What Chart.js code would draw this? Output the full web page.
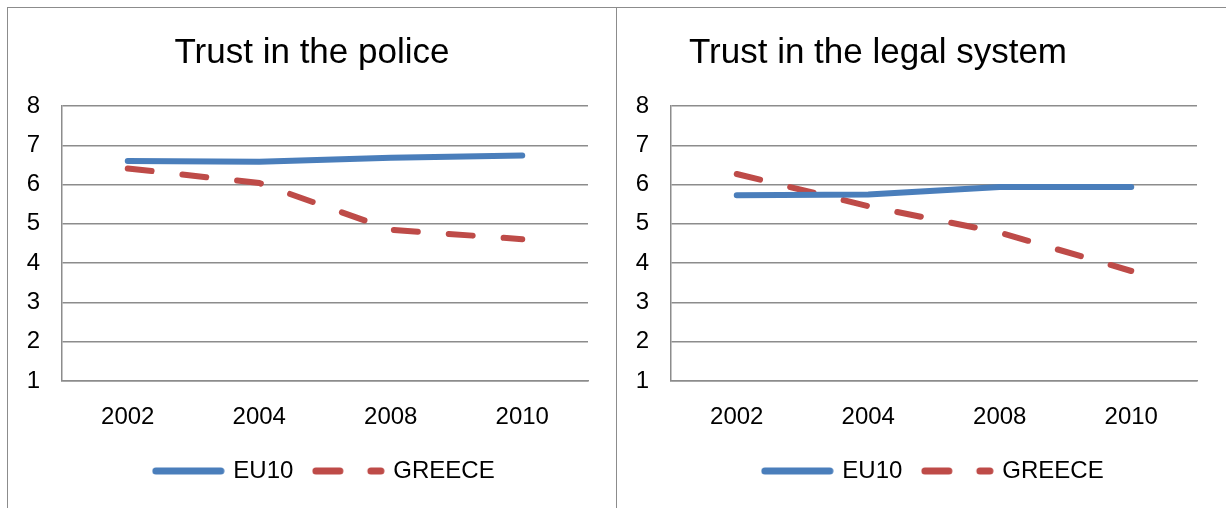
<!DOCTYPE html>
<html>
<head>
<meta charset="utf-8">
<script src="https://cdn.jsdelivr.net/npm/chart.js@4/dist/chart.umd.min.js"></script>
<style>
  html, body { margin: 0; padding: 0; background: #fff; overflow: hidden; }
  body { width: 1226px; height: 508px; position: relative; }
  .panel { position: absolute; top: 7px; height: 520px; border-top: 1px solid #8c8c8c; border-left: 1px solid #8c8c8c; }
  #leftPanel { left: 7px; width: 609px; }
  #rightPanel { left: 616px; width: 620px; }
  .panel canvas { position: absolute; left: 0; top: 0; }
</style>
</head>
<body>
<div class="panel" id="leftPanel"><canvas id="policeChart" width="609" height="500"></canvas></div>
<div class="panel" id="rightPanel"><canvas id="legalChart" width="609" height="500"></canvas></div>
<script>
// Survey years and mean trust scores (scale 1-8)
const years = ['2002', '2004', '2008', '2010'];
const policeEU10 = [6.60, 6.58, 6.68, 6.74];
const policeGreece = [6.41, 6.04, 4.85, 4.61];
const legalEU10 = [5.73, 5.75, 5.94, 5.94];
const legalGreece = [6.27, 5.45, 4.78, 3.80];
const seriesNames = ['EU10', 'GREECE'];

const blue = '#4a7ebb';
const red = '#be4b48';
const gridGray = '#8c8c8c';
const fontFamily = '"Liberation Sans", Arial, sans-serif';

// small line swatches for the legend (solid blue, dashed red)
function makeSwatch(color, dash) {
    const c = document.createElement('canvas');
    c.width = 73;
    c.height = 10;
    const g = c.getContext('2d');
    g.strokeStyle = color;
    g.lineWidth = 7;
    g.lineCap = 'round';
    g.setLineDash(dash);
    g.beginPath();
    g.moveTo(4, 5);
    g.lineTo(69, 5);
    g.stroke();
    return c;
}
const eu10Swatch = makeSwatch(blue, []);
const greeceSwatch = makeSwatch(red, [24, 31]);

// draws the chart heading at a set spot above the plot
const panelTitle = {
    id: 'panelTitle',
    afterDraw(chart, args, opts) {
        const ctx = chart.ctx;
        ctx.save();
        ctx.font = '35px ' + fontFamily;
        ctx.fillStyle = '#000';
        ctx.textAlign = 'center';
        ctx.textBaseline = 'middle';
        ctx.fillText(opts.text, opts.x, opts.y);
        ctx.restore();
    }
};

function makeChart(canvasId, title, titleX, eu10, greece) {
    const ctx = document.getElementById(canvasId).getContext('2d');
    return new Chart(ctx, {
        type: 'line',
        data: {
            labels: years,
            datasets: [{
                label: seriesNames[0],
                data: eu10,
                borderColor: blue,
                backgroundColor: blue,
                borderWidth: 6,
                borderCapStyle: 'round',
                pointRadius: 0,
                pointStyle: eu10Swatch,
                tension: 0,
                fill: false
            }, {
                label: seriesNames[1],
                data: greece,
                borderColor: red,
                backgroundColor: red,
                borderWidth: 6,
                borderCapStyle: 'round',
                borderDash: [24, 31],
                pointRadius: 0,
                pointStyle: greeceSwatch,
                tension: 0,
                fill: false
            }]
        },
        options: {
            responsive: false,
            animation: false,
            events: [],
            layout: { padding: { top: 98, right: 29, bottom: 15, left: 0 } },
            scales: {
                x: {
                    offset: true,
                    grid: { display: false, drawTicks: false },
                    border: { color: gridGray, width: 1.5 },
                    ticks: { color: '#000', font: { family: fontFamily, size: 24 }, padding: 22, maxRotation: 0 },
                    afterFit: (scale) => { scale.height = 56; }
                },
                y: {
                    min: 1,
                    max: 8,
                    ticks: { stepSize: 1, color: '#000', font: { family: fontFamily, size: 24 }, padding: 22 },
                    grid: { color: gridGray, lineWidth: 1.5, drawTicks: false },
                    border: { color: gridGray, width: 1.5 },
                    afterFit: (scale) => { scale.width = 54; }
                }
            },
            plugins: {
                legend: {
                    position: 'bottom',
                    fullSize: false,
                    labels: {
                        usePointStyle: true,
                        pointStyleWidth: 66,
                        color: '#000',
                        font: { family: fontFamily, size: 24 },
                        padding: 22
                    }
                },
                tooltip: { enabled: false },
                panelTitle: { text: title, x: titleX, y: 45 }
            }
        },
        plugins: [panelTitle]
    });
}

makeChart('policeChart', 'Trust in the police', 304, policeEU10, policeGreece);
makeChart('legalChart', 'Trust in the legal system', 261, legalEU10, legalGreece);
</script>
</body>
</html>
